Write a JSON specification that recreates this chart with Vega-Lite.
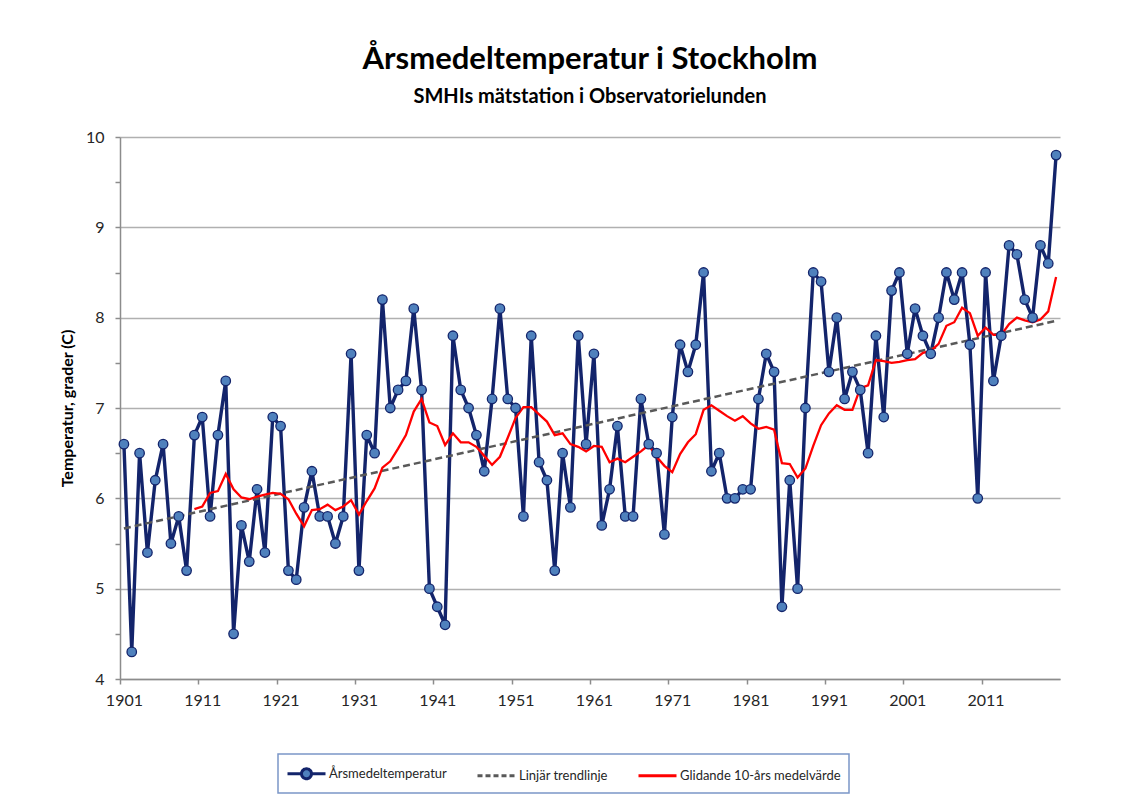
{
  "$schema": "https://vega.github.io/schema/vega-lite/v6.json",
  "width": 940,
  "height": 542,
  "autosize": {"type": "none"},
  "padding": {"left": 120, "top": 137, "right": 70, "bottom": 121},
  "background": "white",
  "config": {
    "font": "Lato",
    "view": {"stroke": null},
    "axis": {"labelFont": "Lato", "titleFont": "Lato"}
  },
  "title": {
    "text": "Årsmedeltemperatur i Stockholm",
    "subtitle": "SMHIs mätstation i Observatorielunden",
    "anchor": "middle",
    "font": "Lato",
    "fontSize": 31,
    "fontWeight": "bold",
    "color": "#000000",
    "subtitleFont": "Lato",
    "subtitleFontSize": 20,
    "subtitleFontWeight": "bold",
    "subtitleColor": "#000000",
    "subtitlePadding": 11,
    "offset": 21
  },
  "data": {
    "values": [
      {"year": 1901, "temp": 6.6}, {"year": 1902, "temp": 4.3}, {"year": 1903, "temp": 6.5}, {"year": 1904, "temp": 5.4}, {"year": 1905, "temp": 6.2},
      {"year": 1906, "temp": 6.6}, {"year": 1907, "temp": 5.5}, {"year": 1908, "temp": 5.8}, {"year": 1909, "temp": 5.2}, {"year": 1910, "temp": 6.7},
      {"year": 1911, "temp": 6.9}, {"year": 1912, "temp": 5.8}, {"year": 1913, "temp": 6.7}, {"year": 1914, "temp": 7.3}, {"year": 1915, "temp": 4.5},
      {"year": 1916, "temp": 5.7}, {"year": 1917, "temp": 5.3}, {"year": 1918, "temp": 6.1}, {"year": 1919, "temp": 5.4}, {"year": 1920, "temp": 6.9},
      {"year": 1921, "temp": 6.8}, {"year": 1922, "temp": 5.2}, {"year": 1923, "temp": 5.1}, {"year": 1924, "temp": 5.9}, {"year": 1925, "temp": 6.3},
      {"year": 1926, "temp": 5.8}, {"year": 1927, "temp": 5.8}, {"year": 1928, "temp": 5.5}, {"year": 1929, "temp": 5.8}, {"year": 1930, "temp": 7.6},
      {"year": 1931, "temp": 5.2}, {"year": 1932, "temp": 6.7}, {"year": 1933, "temp": 6.5}, {"year": 1934, "temp": 8.2}, {"year": 1935, "temp": 7.0},
      {"year": 1936, "temp": 7.2}, {"year": 1937, "temp": 7.3}, {"year": 1938, "temp": 8.1}, {"year": 1939, "temp": 7.2}, {"year": 1940, "temp": 5.0},
      {"year": 1941, "temp": 4.8}, {"year": 1942, "temp": 4.6}, {"year": 1943, "temp": 7.8}, {"year": 1944, "temp": 7.2}, {"year": 1945, "temp": 7.0},
      {"year": 1946, "temp": 6.7}, {"year": 1947, "temp": 6.3}, {"year": 1948, "temp": 7.1}, {"year": 1949, "temp": 8.1}, {"year": 1950, "temp": 7.1},
      {"year": 1951, "temp": 7.0}, {"year": 1952, "temp": 5.8}, {"year": 1953, "temp": 7.8}, {"year": 1954, "temp": 6.4}, {"year": 1955, "temp": 6.2},
      {"year": 1956, "temp": 5.2}, {"year": 1957, "temp": 6.5}, {"year": 1958, "temp": 5.9}, {"year": 1959, "temp": 7.8}, {"year": 1960, "temp": 6.6},
      {"year": 1961, "temp": 7.6}, {"year": 1962, "temp": 5.7}, {"year": 1963, "temp": 6.1}, {"year": 1964, "temp": 6.8}, {"year": 1965, "temp": 5.8},
      {"year": 1966, "temp": 5.8}, {"year": 1967, "temp": 7.1}, {"year": 1968, "temp": 6.6}, {"year": 1969, "temp": 6.5}, {"year": 1970, "temp": 5.6},
      {"year": 1971, "temp": 6.9}, {"year": 1972, "temp": 7.7}, {"year": 1973, "temp": 7.4}, {"year": 1974, "temp": 7.7}, {"year": 1975, "temp": 8.5},
      {"year": 1976, "temp": 6.3}, {"year": 1977, "temp": 6.5}, {"year": 1978, "temp": 6.0}, {"year": 1979, "temp": 6.0}, {"year": 1980, "temp": 6.1},
      {"year": 1981, "temp": 6.1}, {"year": 1982, "temp": 7.1}, {"year": 1983, "temp": 7.6}, {"year": 1984, "temp": 7.4}, {"year": 1985, "temp": 4.8},
      {"year": 1986, "temp": 6.2}, {"year": 1987, "temp": 5.0}, {"year": 1988, "temp": 7.0}, {"year": 1989, "temp": 8.5}, {"year": 1990, "temp": 8.4},
      {"year": 1991, "temp": 7.4}, {"year": 1992, "temp": 8.0}, {"year": 1993, "temp": 7.1}, {"year": 1994, "temp": 7.4}, {"year": 1995, "temp": 7.2},
      {"year": 1996, "temp": 6.5}, {"year": 1997, "temp": 7.8}, {"year": 1998, "temp": 6.9}, {"year": 1999, "temp": 8.3}, {"year": 2000, "temp": 8.5},
      {"year": 2001, "temp": 7.6}, {"year": 2002, "temp": 8.1}, {"year": 2003, "temp": 7.8}, {"year": 2004, "temp": 7.6}, {"year": 2005, "temp": 8.0},
      {"year": 2006, "temp": 8.5}, {"year": 2007, "temp": 8.2}, {"year": 2008, "temp": 8.5}, {"year": 2009, "temp": 7.7}, {"year": 2010, "temp": 6.0},
      {"year": 2011, "temp": 8.5}, {"year": 2012, "temp": 7.3}, {"year": 2013, "temp": 7.8}, {"year": 2014, "temp": 8.8}, {"year": 2015, "temp": 8.7},
      {"year": 2016, "temp": 8.2}, {"year": 2017, "temp": 8.0}, {"year": 2018, "temp": 8.8}, {"year": 2019, "temp": 8.6}, {"year": 2020, "temp": 9.8}
    ]
  },
  "encoding": {
    "x": {
      "field": "year",
      "type": "quantitative",
      "scale": {"domain": [1900.5, 2020.5], "nice": false, "zero": false},
      "axis": {
        "title": null,
        "values": [1901, 1911, 1921, 1931, 1941, 1951, 1961, 1971, 1981, 1991, 2001, 2011, 2021],
        "labelExpr": "datum.value == 2021 ? '' : format(datum.value, 'd')",
        "grid": false,
        "domainColor": "#8c8c8c",
        "domainWidth": 1.5,
        "tickColor": "#8c8c8c",
        "tickWidth": 1.5,
        "tickSize": 5,
        "tickOffset": -3.9,
        "labelOffset": 3.9,
        "labelFontSize": 16,
        "labelColor": "#262626",
        "labelPadding": 8,
        "labelFlush": false,
        "labelOverlap": false
      }
    }
  },
  "layer": [
    {
      "mark": {"type": "line", "strokeWidth": 3.4, "strokeJoin": "round"},
      "encoding": {
        "y": {
          "field": "temp",
          "type": "quantitative",
          "scale": {"domain": [4, 10], "nice": false, "zero": false},
          "axis": {
            "title": "Temperatur, grader (C)",
            "titleFontSize": 16,
            "titleFontWeight": "bold",
            "titleColor": "#000000",
            "titleX": -45,
            "values": [4, 4.5, 5, 5.5, 6, 6.5, 7, 7.5, 8, 8.5, 9, 9.5, 10],
            "labelExpr": "datum.value % 1 == 0 ? format(datum.value, 'd') : ''",
            "labelFontSize": 16,
            "labelColor": "#262626",
            "labelPadding": 11,
            "grid": true,
            "gridColor": "#b0b0b0",
            "gridWidth": 1.5,
            "gridOpacity": {"condition": {"test": "datum.value % 1 != 0", "value": 0}, "value": 1},
            "domainColor": "#8c8c8c",
            "domainWidth": 1.5,
            "tickColor": "#8c8c8c",
            "tickWidth": 1.5,
            "tickSize": 5
          }
        },
        "color": {
          "datum": "Årsmedeltemperatur",
          "type": "nominal",
          "scale": {
            "domain": ["Årsmedeltemperatur", "Linjär trendlinje", "Glidande 10-års medelvärde"],
            "range": ["#13246b", "#595959", "#ff0000"]
          },
          "legend": {
            "title": null,
            "orient": "none",
            "direction": "horizontal",
            "legendX": 158,
            "legendY": 617,
            "strokeColor": "#7b96c8",
            "padding": 8,
            "columnPadding": 24,
            "labelFont": "Lato",
            "labelFontSize": 13,
            "labelColor": "#262626",
            "labelOffset": 20,
            "labelLimit": 300,
            "symbolType": "stroke",
            "symbolSize": 400,
            "symbolStrokeWidth": 3,
            "encode": {
              "legend": {"update": {"strokeWidth": {"value": 1.5}}},
              "symbols": {
                "update": {
                  "shape": {"signal": "datum.value === 'Årsmedeltemperatur' ? 'M-1,0H0.4M1.4,0H2.8M0.4,0A0.5,0.5,0,1,0,1.4,0A0.5,0.5,0,1,0,0.4,0Z' : 'M-1,0H2.8'"},
                  "fill": {"signal": "datum.value === 'Årsmedeltemperatur' ? '#4f81bd' : 'transparent'"},
                  "strokeDash": {"signal": "datum.value === 'Linjär trendlinje' ? [5, 3] : [1, 0]"}
                }
              }
            }
          }
        }
      }
    },
    {
      "transform": [{"regression": "temp", "on": "year"}],
      "mark": {"type": "line", "strokeWidth": 2.5, "strokeDash": [7, 4]},
      "encoding": {
        "y": {"field": "temp", "type": "quantitative", "title": "Temperatur, grader (C)"},
        "color": {"datum": "Linjär trendlinje", "type": "nominal"}
      }
    },
    {
      "transform": [
        {"window": [{"op": "mean", "field": "temp", "as": "avg"}], "frame": [-9, 0], "sort": [{"field": "year"}]},
        {"filter": "datum.year >= 1910"}
      ],
      "mark": {"type": "line", "strokeWidth": 2.3},
      "encoding": {
        "y": {"field": "avg", "type": "quantitative", "title": "Temperatur, grader (C)"},
        "color": {"datum": "Glidande 10-års medelvärde", "type": "nominal"}
      }
    },
    {
      "mark": {"type": "point", "filled": true, "fill": "#4f81bd", "stroke": "#13246b", "strokeWidth": 1.3, "size": 90, "opacity": 1},
      "encoding": {
        "y": {"field": "temp", "type": "quantitative", "title": "Temperatur, grader (C)"}
      }
    }
  ]
}
